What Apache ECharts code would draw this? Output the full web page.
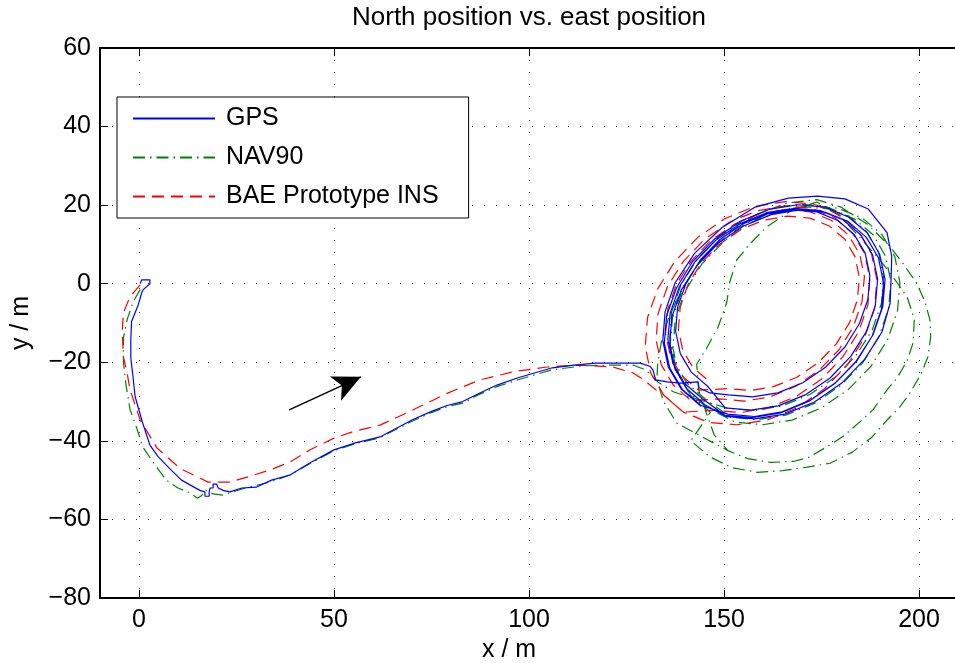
<!DOCTYPE html>
<html>
<head>
<meta charset="utf-8">
<script src="https://cdn.jsdelivr.net/npm/echarts@6/dist/echarts.min.js"></script>
<style>
  html, body { margin: 0; padding: 0; background: #fff; overflow: hidden; }
  /* wider than the window: the right side of the box is cut off, as in the figure */
  #chart { width: 975px; height: 663px; }
</style>
</head>
<body>
<div id="chart"></div>
<script>
// track data [east, north] in metres
var gpsApproach = [
  [0.3, 0], [0.7, 1], [2.8, 1], [2.8, 0], [1.1, -1.5], [0.7, -2.3], [-0.2, -5.4], [-1.9, -9.6],
  [-2.1, -14], [-2.1, -18.9], [-1.5, -24], [-1, -28.7], [0.8, -35], [2.8, -41.1], [4.9, -44],
  [8, -47.2], [10.9, -50], [15.6, -52.6], [16.1, -53], [16.9, -53], [16.9, -54.1], [18, -54.1],
  [18, -53], [18.2, -52], [19, -52], [19, -51], [19.9, -51], [20.3, -52], [21.6, -52.6],
  [23.3, -53], [26.4, -52], [30, -51.8], [34, -50], [38.7, -48.7], [44, -45.5], [50, -42.3],
  [55.5, -40.5], [61.8, -39], [70, -34.7], [75, -32.5], [79, -31], [83, -30], [87, -28],
  [91.8, -25.8], [97, -24], [106, -21.4], [111, -20.8], [117, -20.2], [122, -20.2], [128.5, -20.2],
  [131, -21], [131.8, -22], [132.5, -24.5], [135.4, -25], [138.7, -25.3], [143.3, -25],
  [143.6, -26.5], [146.4, -27.8]
];
var gpsLoop1 = [
  [151.2, -28.3], [157.3, -28.8], [163.8, -27.8], [170.2, -25.2], [176.1, -21.2], [181.0, -16.1],
  [184.7, -10.2], [186.9, -4.0], [187.4, 2.1], [186.2, 7.8], [183.4, 12.5], [179.2, 16.1],
  [173.8, 18.3], [167.7, 18.8], [161.2, 17.8], [154.8, 15.2], [148.9, 11.2], [144.0, 6.1],
  [140.3, 0.2], [138.1, -6.0], [137.6, -12.1], [138.8, -17.8], [141.6, -22.5], [145.8, -26.1]
];
var gpsLoop2 = [
  [150.3, -31.6], [156.9, -32.2], [163.9, -31.1], [170.8, -28.3], [177.2, -24.0], [182.5, -18.5],
  [186.5, -12.2], [188.8, -5.5], [189.4, 1.2], [188.1, 7.3], [185.1, 12.4], [180.5, 16.3],
  [174.7, 18.6], [168.1, 19.2], [161.1, 18.1], [154.2, 15.3], [147.8, 11.0], [142.5, 5.5],
  [138.5, -0.9], [136.2, -7.5], [135.6, -14.2], [136.9, -20.3], [139.9, -25.4], [144.5, -29.3]
];
var gpsLoop3 = [
  [150.2, -33.5], [157.1, -34.1], [164.5, -32.9], [171.8, -29.9], [178.4, -25.4], [184.1, -19.6],
  [188.2, -13.0], [190.7, -5.9], [191.3, 1.1], [189.9, 7.5], [186.8, 12.9], [181.9, 17.0],
  [175.9, 19.5], [168.9, 20.1], [161.5, 18.9], [154.2, 15.9], [147.6, 11.4], [141.9, 5.6],
  [137.8, -1.1], [135.3, -8.1], [134.7, -15.1], [136.1, -21.5], [139.3, -26.9], [144.1, -31.0]
];
var gpsLoop4 = [
  [151.0, -33.2], [157.8, -33.8], [164.9, -32.6], [172.0, -29.7], [178.5, -25.3], [183.9, -19.7],
  [188.0, -13.3], [190.4, -6.4], [190.9, 0.3], [189.6, 6.6], [186.5, 11.8], [181.9, 15.8],
  [176.0, 18.2], [169.2, 18.8], [162.1, 17.6], [155.0, 14.7], [148.5, 10.3], [143.1, 4.7],
  [139.0, -1.7], [136.6, -8.6], [136.1, -15.3], [137.4, -21.6], [140.5, -26.8], [145.1, -30.8]
];
var gpsLoop5 = [
  [150.5, -33.8], [157.8, -34.4], [165.6, -33.2], [173.2, -30.1], [180.2, -25.3], [186.1, -19.2],
  [190.5, -12.3], [192.6, -4.9], [192.9, 2.8], [193.0, 7.0], [191.8, 13.0], [187.0, 19.0],
  [181.0, 21.6], [174.0, 22.3], [166.5, 21.8], [158.0, 19.5], [149.5, 14.3], [142.5, 7.8],
  [137.5, 0.3], [134.9, -7.1], [134.3, -14.5], [135.7, -21.2], [139.1, -26.9], [144.1, -31.2]
];

var navApproach = [
  [0.3, -1.5], [-1.5, -4.6], [-3, -9], [-4, -13.8], [-4, -20], [-3.3, -26], [-2.3, -32],
  [-0.5, -37], [1, -41.6], [4, -46], [7, -50], [10, -52], [13, -53.2], [15, -54.6], [16, -54],
  [17, -52.5], [19, -53.5], [21.5, -53.8], [24, -53], [28, -51.8], [33.6, -50.5], [38.7, -48.7],
  [44, -45.7], [50, -42.5], [55.5, -40.7], [61.8, -39.2], [70, -35], [75, -32.8], [79, -31.3],
  [83, -30.4], [87, -28.3], [91.8, -26.2], [97, -24.5], [106, -21.9], [114, -20.9],
  [121.5, -20.7], [126.7, -20.7], [130, -22], [133, -25], [137, -27.5], [141, -28.8]
];
var navLoop1 = [
  [151.0, -31.7], [157.8, -32.3], [164.9, -31.1], [172.0, -28.2], [178.5, -23.8], [183.9, -18.2],
  [188.0, -11.8], [190.4, -4.9], [190.9, 1.8], [189.6, 8.1], [186.5, 13.3], [181.9, 17.3],
  [176.0, 19.7], [169.2, 20.3], [162.1, 19.1], [155.0, 16.2], [148.5, 11.8], [143.1, 6.2],
  [139.0, -0.2], [136.6, -7.1], [136.1, -13.8], [137.4, -20.1], [140.5, -25.3], [145.1, -29.3]
];
var navLoop2 = [
  [151.7, -34.0], [158.6, -34.6], [166.0, -33.4], [173.3, -30.4], [179.9, -25.9], [185.6, -20.1],
  [189.7, -13.5], [192.2, -6.4], [192.8, 0.6], [191.4, 7.0], [188.3, 12.4], [183.4, 16.5],
  [177.4, 19.0], [170.4, 19.6], [163.0, 18.4], [155.7, 15.4], [149.1, 10.9], [143.4, 5.1],
  [139.3, -1.6], [136.8, -8.6], [136.2, -15.6], [137.6, -22.0], [140.8, -27.4], [145.6, -31.5]
];
var navLoop3 = [
  [152.8, -35.2], [159.9, -35.9], [167.5, -34.7], [175.0, -31.6], [181.9, -26.9], [187.7, -21.0],
  [192.0, -14.1], [194.5, -6.9], [195.1, 0.3], [193.8, 6.9], [190.5, 12.5], [185.5, 16.7],
  [179.2, 19.2], [172.1, 19.9], [164.5, 18.7], [157.0, 15.6], [150.1, 10.9], [144.3, 5.0],
  [140.0, -1.9], [137.5, -9.1], [136.9, -16.3], [138.3, -22.9], [141.5, -28.5], [146.5, -32.7]
];
var navLoop4 = [
  [141.5, -40], [146.4, -44.1], [152, -46.8], [158.5, -48], [165, -47.6], [171.3, -46.7],
  [177.2, -45.7], [183, -42.8], [188, -39], [191.8, -34.7], [195, -31.5], [197.7, -27.8],
  [200.5, -23], [202.3, -18.6], [203, -13.5], [202.8, -9.2], [201.5, -4.5], [199.5, 0],
  [196, 5], [192.6, 9.4], [187, 15], [180, 19.5], [173.8, 21.4], [166, 20.5], [158, 17.5],
  [150.5, 12.5], [144, 6], [139.5, -1], [136, -8], [134, -14.5], [133, -20], [132.8, -24.5],
  [134.5, -30], [137.9, -35.5]
];
var navLoop5 = [
  [151, -42.5], [156, -44.5], [162, -45.5], [168, -45.2], [172, -44.1], [178, -40.5],
  [181, -38.5], [185.6, -34.5], [188.2, -32.1], [191.8, -27], [194.4, -24], [197, -19.5],
  [198.5, -15], [198.8, -9], [197, -3.5], [194.4, 0.3], [190, 6], [186, 10.5], [180, 17],
  [173.8, 20.8], [167, 18.5], [161, 14.5], [156.5, 10], [153.3, 6.1], [151.5, 0.5],
  [150.7, -4.8], [148.5, -11], [145.5, -16.5], [143, -20.5], [143.5, -27], [145.5, -33],
  [147.5, -38.5], [151, -42.5]
];

var insApproach = [
  [0.3, -0.3], [-1, -1.8], [-2.3, -3.3], [-4, -7.4], [-4.3, -12], [-4, -18.6], [-3, -23],
  [-2.3, -27], [0.3, -34.7], [4.6, -41.8], [10.5, -47], [17.7, -50.5], [23.3, -50.5],
  [28.5, -49], [33.6, -47.4], [38.7, -45.4], [44, -42.2], [50, -39.3], [55, -37.6], [61.8, -36],
  [70.3, -32.1], [79, -27.9], [87.4, -24.5], [96, -22.4], [104.6, -21.2], [113, -20.7],
  [121.5, -21.2], [126.7, -22.7], [129.5, -24.5], [132.5, -27], [134.6, -28.4], [139.6, -32.7]
];
var insLoop1 = [
  [146.0, -35.3], [153.3, -35.9], [161.1, -34.7], [168.7, -31.6], [175.7, -26.8], [181.6, -20.7],
  [186.0, -13.8], [188.6, -6.4], [189.2, 1.0], [187.8, 7.7], [184.4, 13.4], [179.4, 17.7],
  [173.0, 20.3], [165.7, 20.9], [158.0, 19.7], [150.3, 16.6], [143.3, 11.8], [137.4, 5.7],
  [133.0, -1.3], [130.4, -8.6], [129.8, -16.0], [131.2, -22.7], [134.6, -28.4], [139.6, -32.7]
];
var insLoop2 = [
  [147.5, -32.2], [154.3, -32.8], [161.4, -31.6], [168.5, -28.7], [175.0, -24.3], [180.4, -18.7],
  [184.5, -12.3], [186.9, -5.4], [187.4, 1.3], [186.1, 7.6], [183.0, 12.8], [178.4, 16.8],
  [172.5, 19.2], [165.7, 19.8], [158.6, 18.6], [151.5, 15.7], [145.0, 11.3], [139.6, 5.7],
  [135.5, -0.7], [133.1, -7.6], [132.6, -14.3], [133.9, -20.6], [137.0, -25.8], [141.6, -29.8]
];
var insLoop3 = [
  [148.9, -29.3], [155.2, -29.9], [161.8, -28.8], [168.4, -26.1], [174.4, -22.0], [179.5, -16.8],
  [183.2, -10.9], [185.4, -4.5], [186.0, 1.8], [184.8, 7.5], [181.9, 12.4], [177.6, 16.1],
  [172.1, 18.3], [165.8, 18.9], [159.2, 17.8], [152.6, 15.1], [146.6, 11.0], [141.6, 5.8],
  [137.8, -0.1], [135.6, -6.5], [135.0, -12.8], [136.3, -18.5], [139.1, -23.4], [143.5, -27.1]
];
var insLoop4 = [
  [151.0, -26.7], [156.7, -27.2], [162.7, -26.2], [168.7, -23.8], [174.2, -20.1], [178.8, -15.3],
  [182.2, -9.9], [184.2, -4.1], [184.7, 1.6], [183.6, 6.9], [181.0, 11.3], [177.0, 14.7],
  [172.0, 16.7], [166.3, 17.2], [160.3, 16.2], [154.3, 13.8], [148.9, 10.1], [144.2, 5.3],
  [140.8, -0.1], [138.8, -5.9], [138.3, -11.6], [139.4, -16.9], [142.0, -21.3], [146.0, -24.7]
];

// direction arrow drawn on the plot
var arrowFrom = [38.5, -32.1];
var arrowTo = [56.9, -23.7];

var xTicks = [0, 50, 100, 150, 200];
var seriesNames = ['GPS', 'NAV90', 'BAE Prototype INS'];

var font = '"Liberation Sans", Arial, Helvetica, sans-serif';

var gps = gpsApproach.concat(gpsLoop1, gpsLoop2, gpsLoop3, gpsLoop4, gpsLoop5);
var nav = navApproach.concat(navLoop1, navLoop2, navLoop3, navLoop4, navLoop5);
var ins = insApproach.concat(insLoop1, insLoop2, insLoop3, insLoop4);

var chart = echarts.init(document.getElementById('chart'));
var dotted = { color: '#333', width: 1, type: [1, 11] };

chart.setOption({
  animation: false,
  backgroundColor: '#fff',
  textStyle: { fontFamily: font },
  // box right edge lands at 958px, just past the 955px window
  grid: { left: 100, top: 48, right: 17, bottom: 65, outerBoundsMode: 'none', containLabel: false },
  graphic: [
    {
      type: 'text', left: 352, top: 5,
      style: { text: 'North position vs. east position', font: '26px ' + font, fill: '#000' }
    },
    {
      type: 'text', left: 482, top: 638,
      style: { text: 'x / m', font: '25px ' + font, fill: '#000' }
    }
  ],
  legend: {
    data: seriesNames,
    orient: 'vertical',
    left: 117, top: 97,
    itemWidth: 82, itemHeight: 12, itemGap: 14,
    padding: [9, 30, 9, 15],
    borderColor: '#000', borderWidth: 1, backgroundColor: '#fff',
    selectedMode: false,
    itemStyle: { opacity: 0 },
    textStyle: { fontSize: 25, color: '#000', fontFamily: font, padding: [0, 0, 0, 6] }
  },
  xAxis: [
    {
      type: 'value', min: -10, max: 210,
      axisLine: { onZero: false, lineStyle: { color: '#000', width: 2 } },
      axisTick: { inside: true, length: 8, lineStyle: { color: '#000' } },
      axisLabel: {
        fontSize: 25, color: '#000', margin: 10, fontFamily: font,
        showMinLabel: false, showMaxLabel: false,
        formatter: function (v) { return xTicks.indexOf(v) >= 0 ? String(v) : ''; }
      },
      splitLine: { show: true, showMinLine: false, showMaxLine: false, lineStyle: dotted }
    },
    {
      type: 'value', min: -10, max: 210, position: 'top',
      axisLine: { onZero: false, lineStyle: { color: '#000', width: 2 } },
      axisTick: { inside: true, length: 8, lineStyle: { color: '#000' } },
      axisLabel: { show: false },
      splitLine: { show: false }
    }
  ],
  yAxis: {
    type: 'value', min: -80, max: 60, interval: 20,
    name: 'y / m', nameLocation: 'middle', nameGap: 66, nameRotate: 90,
    nameTextStyle: { fontSize: 25, color: '#000', fontFamily: font },
    axisLine: { onZero: false, lineStyle: { color: '#000', width: 2 } },
    axisTick: { inside: true, length: 8, lineStyle: { color: '#000' } },
    axisLabel: {
      fontSize: 25, color: '#000', margin: 9, fontFamily: font,
      formatter: function (v) { return String(v).replace('-', '\u2212'); }
    },
    splitLine: { show: true, showMinLine: false, showMaxLine: false, lineStyle: dotted }
  },
  series: [
    {
      name: 'GPS', type: 'line', data: gps, symbol: 'none', silent: true,
      lineStyle: { color: '#0000ff', width: 1.2 },
      itemStyle: { color: '#0000ff', opacity: 0 },
      z: 4,
      markLine: {
        silent: true,
        symbol: ['none', 'arrow'],
        symbolSize: [20, 28],
        label: { show: false },
        lineStyle: { color: '#000', width: 1.5, type: 'solid' },
        itemStyle: { color: '#000', opacity: 1 },
        data: [[{ coord: arrowFrom }, { coord: arrowTo }]]
      }
    },
    {
      name: 'NAV90', type: 'line', data: nav, symbol: 'none', silent: true,
      lineStyle: { color: '#008000', width: 1.2, type: [12, 5, 1.5, 5] },
      itemStyle: { color: '#008000', opacity: 0 },
      z: 3
    },
    {
      name: 'BAE Prototype INS', type: 'line', data: ins, symbol: 'none', silent: true,
      lineStyle: { color: '#ff0000', width: 1.2, type: [12, 7] },
      itemStyle: { color: '#ff0000', opacity: 0 },
      z: 3
    }
  ]
});
</script>
</body>
</html>
